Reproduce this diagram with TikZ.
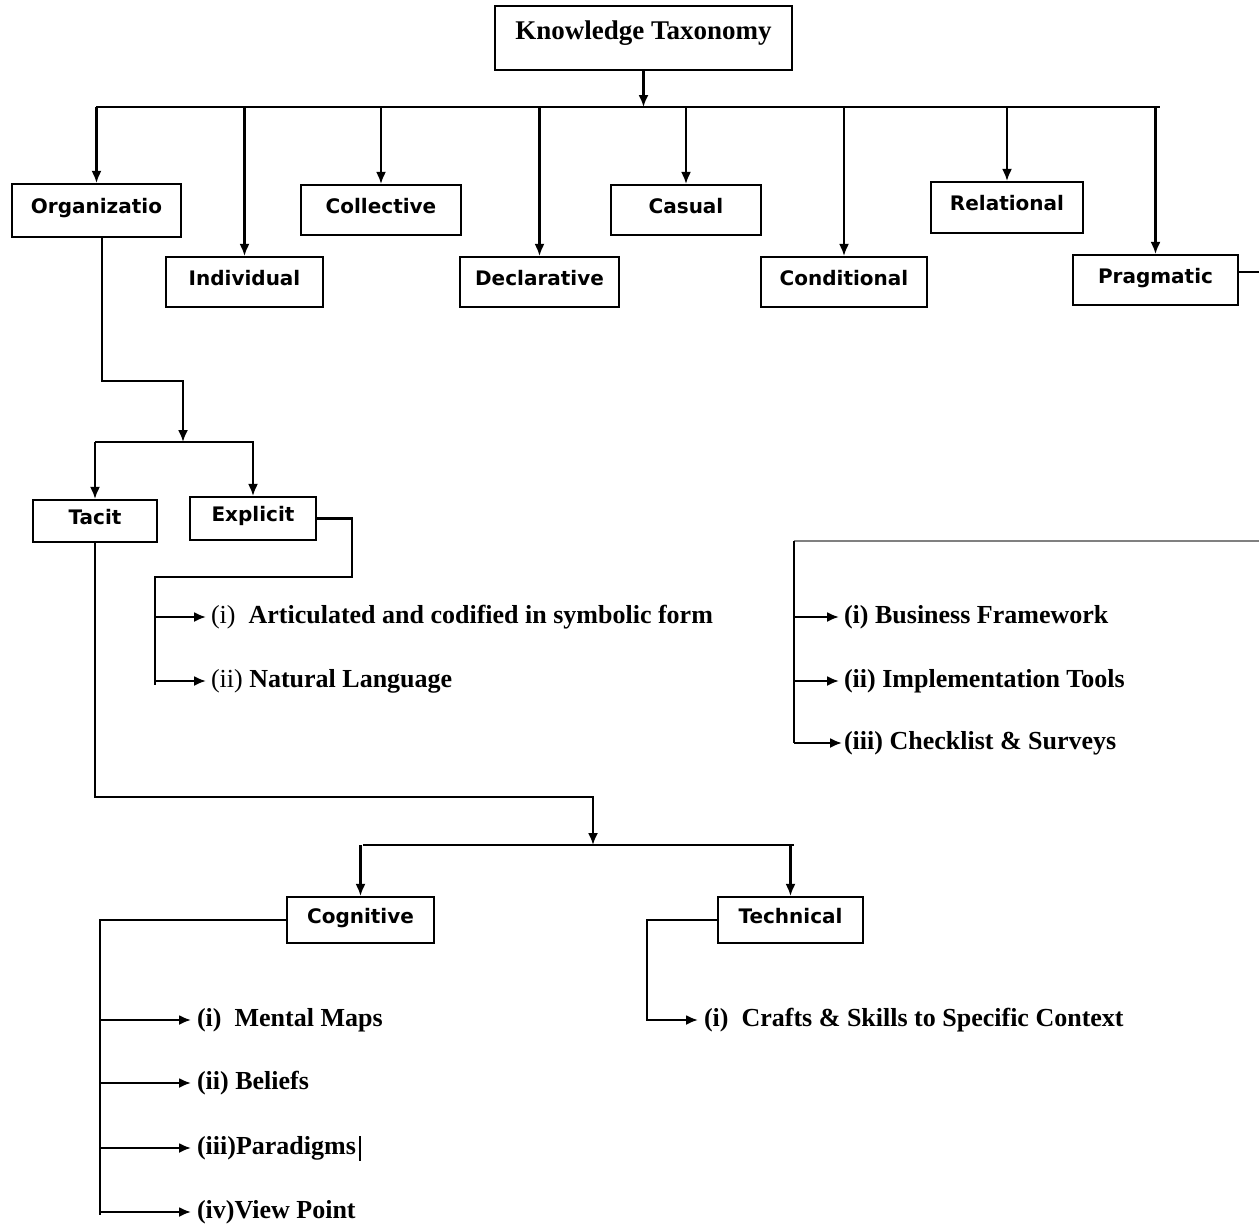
\documentclass[tikz,border=0pt]{standalone}
\usepackage{fontspec}
\setmainfont{Liberation Serif}
\newfontfamily\boxfont{DejaVu Sans}
\usetikzlibrary{arrows.meta}
\begin{document}
\begin{tikzpicture}[x=1pt,y=-1pt,
  line width=2.1pt,
  tip/.style={-{Latex[length=12pt,width=10pt]}},
  cbox/.style={draw, line width=2.1pt, inner sep=0pt, text height=15pt, text depth=9pt,
    font=\boxfont\bfseries\fontsize{20}{24}\selectfont},
  item/.style={anchor=west, inner sep=0pt, font=\bfseries\fontsize{26}{30}\selectfont},
]
\useasboundingbox (0,0) rectangle (1259,1226);

% top
\node[draw, line width=2.1pt, inner sep=0pt, minimum width=297pt, minimum height=64pt, text depth=16pt,
  font=\bfseries\fontsize{27}{32}\selectfont] (kt) at (643.5,38) {Knowledge Taxonomy};

% first level boxes
\node[cbox, minimum width=169pt, minimum height=53pt] (org) at (96.5,210.5) {Organizatio};
\node[cbox, minimum width=157pt, minimum height=50pt] (ind) at (244.5,282) {Individual};
\node[cbox, minimum width=160pt, minimum height=50pt] (col) at (381,210) {Collective};
\node[cbox, minimum width=159pt, minimum height=50pt] (dec) at (539.5,282) {Declarative};
\node[cbox, minimum width=150pt, minimum height=50pt] (cas) at (686,210) {Casual};
\node[cbox, minimum width=166pt, minimum height=50pt] (con) at (844,282) {Conditional};
\node[cbox, minimum width=152pt, minimum height=51pt] (rel) at (1007,207.5) {Relational};
\node[cbox, minimum width=165pt, minimum height=50pt] (pra) at (1155.5,280) {Pragmatic};

% bus 1
\coordinate (busL) at (96,107);
\coordinate (busR) at (1160,107);
\draw (busL) -- (busR);
\draw[tip] (kt.south) -- (kt.south |- busL);
\foreach \n in {org,ind,col,dec,cas,con,rel,pra}
  \draw[tip] (\n.north |- busL) -- (\n.north);

% pragmatic runs off the right edge
\coordinate (pR) at (1259,272);
\draw ([yshift=8pt]pra.east) -- (pR);

% second level
\node[cbox, minimum width=124pt, minimum height=42pt] (tac) at (95,521) {Tacit};
\node[cbox, minimum width=126pt, minimum height=43pt] (exp) at (253,518.5) {Explicit};
\coordinate (j1) at (183,442);
\coordinate (b2R) at (254,442);
\draw[tip] ([xshift=5.5pt]org.south) -- ++(0,143) -| (j1);
\draw (tac.north |- j1) -- (b2R);
\draw[tip] (tac.north |- j1) -- (tac.north);
\draw[tip] (exp.north |- j1) -- (exp.north);

% explicit items
\node[item] (ei) at (210,617) {\textmd{(i)}\ \ Articulated and codified in symbolic form};
\node[item] (eii) at (210,681) {\textmd{(ii)} Natural Language};
\coordinate (e1) at (155,577);
\coordinate (ebot) at (155,685);
\draw (exp.east) -- ++(35,0) |- (e1) -- (ebot);
\draw[tip] (ei.west -| e1) -- ([xshift=-4pt]ei.west);
\draw[tip] (eii.west -| e1) -- ([xshift=-4pt]eii.west);

% right group
\node[item] (bf) at (843,617) {(i) Business Framework};
\node[item] (it) at (843,681) {(ii) Implementation Tools};
\node[item] (cl) at (843,743) {(iii) Checklist \& Surveys};
\coordinate (g0) at (794,541);
\coordinate (gR) at (1259,541);
\coordinate (gbot) at (794,743);
\draw[gray] (gR) -- (g0);
\draw (g0) -- (gbot);
\draw[tip] (bf.west -| g0) -- ([xshift=-4pt]bf.west);
\draw[tip] (it.west -| g0) -- ([xshift=-4pt]it.west);
\draw[tip] (gbot) -- ([xshift=-1pt]cl.west);

% third level
\node[cbox, minimum width=147pt, minimum height=46pt] (cog) at (360.5,920) {Cognitive};
\node[cbox, minimum width=145pt, minimum height=46pt] (tec) at (790.5,920) {Technical};
\coordinate (j3) at (593,845);
\coordinate (b3L) at (363,845);
\coordinate (b3R) at (794,845);
\draw[tip] (tac.south) -- ++(0,254) -| (j3);
\draw (b3L) -- (b3R);
\draw[tip] (cog.north |- j3) -- (cog.north);
\draw[tip] (tec.north |- j3) -- (tec.north);

% cognitive items
\node[item] (mm) at (196,1020) {(i)\ \ Mental Maps};
\node[item] (bel) at (196,1083) {(ii) Beliefs};
\node[item] (par) at (196,1148) {(iii)Paradigms};
\node[item] (vp) at (196,1212) {(iv)View Point};
\coordinate (c0) at (100,920);
\coordinate (cbot) at (100,1215);
\draw (cog.west) -- (c0) -- (cbot);
\foreach \n in {mm,bel,par,vp}
  \draw[tip] (\n.west -| c0) -- ([xshift=-5pt]\n.west);
\draw[line width=2.6pt] ([xshift=3pt,yshift=12pt]par.east) -- ++(0,25);

% technical item
\node[item] (cs) at (703,1020) {(i)\ \ Crafts \& Skills to Specific Context};
\draw[tip] (tec.west) -- ++(-70,0) |- ([xshift=-5pt]cs.west);
\end{tikzpicture}
\end{document}
